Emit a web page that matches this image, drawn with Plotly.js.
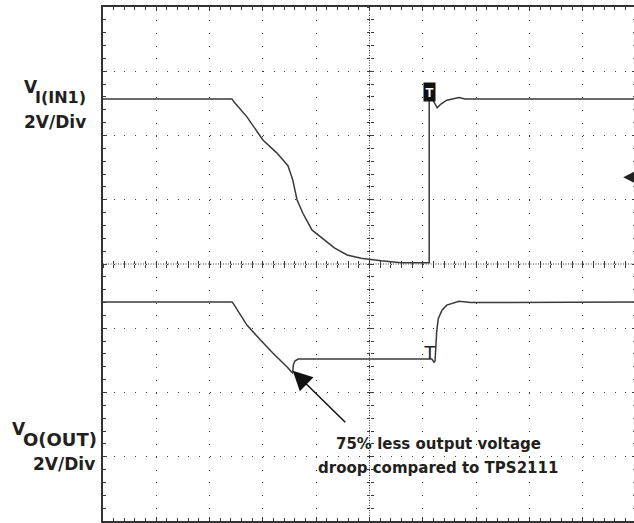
<!DOCTYPE html>
<html><head><meta charset="utf-8">
<script src="https://cdn.plot.ly/plotly-3.0.1.min.js"></script>
<style>html,body{margin:0;padding:0;overflow:hidden;background:#fff}</style>
</head><body><div id="chart" style="width:636px;height:523px"></div>
<script>
// time in screen divisions, voltage in volts
const timeIn1 = [0, 2.42, 2.46, 2.70, 3.00, 3.26, 3.47, 3.56, 3.64, 3.75, 3.92, 4.15, 4.34, 4.58, 4.84, 5.22, 5.59, 6.12, 6.12, 6.19, 6.27, 6.34, 6.45, 6.68, 6.79, 10];
const voltIn1 = [5.14, 5.14, 5.04, 4.58, 3.86, 3.46, 3.06, 2.62, 2.00, 1.58, 1.06, 0.74, 0.50, 0.28, 0.18, 0.10, 0.04, 0.04, 5.14, 5.10, 4.86, 4.98, 5.10, 5.18, 5.14, 5.14];
const timeOut = [0, 2.42, 2.44, 2.57, 2.70, 2.95, 3.19, 3.45, 3.55, 3.56, 3.57, 3.60, 3.66, 3.75, 6.17, 6.21, 6.23, 6.26, 6.29, 6.36, 6.45, 6.68, 6.90, 10];
const voltOut = [5.14, 5.14, 5.10, 4.74, 4.42, 3.96, 3.54, 3.12, 2.96, 2.92, 3.18, 3.30, 3.36, 3.36, 3.36, 3.26, 3.30, 4.20, 4.62, 4.88, 5.04, 5.16, 5.12, 5.14];
const trigLevel = 2.7;
const ch1Label = ["V", "I(IN1)", "2V/Div"];
const ch2Label = ["V", "O(OUT)", "2V/Div"];
const noteLines = ["75% less output voltage", "droop compared to TPS2111"];

const voltsPerDiv = 2;
const ch1Offset = 0;
const ch2Offset = -3.16;

const traceCol = '#3a3a3a';
const gridCol = '#3c3c3c';
const txtCol = '#231f20';
const F = 'DejaVu Sans, Liberation Sans, Arial, sans-serif';

const y1 = voltIn1.map(v => v / voltsPerDiv + ch1Offset);
const y2 = voltOut.map(v => v / voltsPerDiv + ch2Offset);
let minIdx = 0;
voltOut.forEach((v, i) => { if (v < voltOut[minIdx]) minIdx = i; });

const traces = [
  {x: timeIn1, y: y1, mode: 'lines', line: {color: traceCol, width: 1.5}, hoverinfo: 'skip'},
  {x: timeOut, y: y2, mode: 'lines', line: {color: traceCol, width: 1.5}, hoverinfo: 'skip'},
  {x: [], y: [], xaxis: 'x2', yaxis: 'y2'},
  {x: [], y: [], xaxis: 'x3', yaxis: 'y3'}
];

const centerAxisX = (ticks) => ({overlaying: 'x', anchor: 'free', position: 0.5, range: [0, 10], dtick: 0.2, tick0: 0,
  ticks: ticks, ticklen: 3, tickcolor: gridCol, tickwidth: 1, showgrid: false, zeroline: false, showline: false, showticklabels: false});
const centerAxisY = (ticks) => ({overlaying: 'y', anchor: 'free', position: 0.5, range: [-4, 4], dtick: 0.2, tick0: 0,
  ticks: ticks, ticklen: 3, tickcolor: gridCol, tickwidth: 1, showgrid: false, zeroline: false, showline: false, showticklabels: false});

function lbl(text, px, py, anchor, size) {
  return {xref: 'paper', yref: 'paper', x: (px - 103) / 533, y: (521 - py) / 514, xanchor: anchor, yanchor: 'middle',
    text: '<b>' + text + '</b>', showarrow: false, font: {family: F, size: size, color: txtCol}};
}

const annotations = [
  lbl(ch1Label[0], 22, 87, 'left', 17),
  lbl(ch1Label[1], 88, 97.5, 'right', 16),
  lbl(ch1Label[2], 88, 122.5, 'right', 17),
  lbl(ch2Label[0], 10, 429, 'left', 17),
  lbl(ch2Label[1], 99, 439.5, 'right', 18),
  lbl(ch2Label[2], 97, 464, 'right', 17),
  lbl(noteLines[0], 438, 444, 'center', 15),
  lbl(noteLines[1], 438, 467.5, 'center', 15),
  {x: timeOut[minIdx], y: y2[minIdx] + 0.04, xref: 'x', yref: 'y', text: '', showarrow: true, ax: 54, ay: 53,
    arrowhead: 2, arrowsize: 2.6, arrowwidth: 1.5, arrowcolor: '#111'},
  {x: 9.76, y: trigLevel / voltsPerDiv + ch1Offset, xref: 'x', yref: 'y', text: '', showarrow: true, ax: 14, ay: 0,
    arrowhead: 2, arrowsize: 1.6, arrowwidth: 2, arrowcolor: '#222'},
  {x: 6.13, y: 2.68, xref: 'x', yref: 'y', text: '<b>T</b>', showarrow: false, bgcolor: '#111', borderpad: 1.5,
    font: {family: 'Liberation Sans, Arial, sans-serif', size: 13, color: '#fff'}},
  {x: 6.14, y: -1.37, xref: 'x', yref: 'y', text: 'T', showarrow: false,
    font: {family: 'Liberation Sans, Arial, sans-serif', size: 19, color: '#222'}}
];

const layout = {
  width: 636, height: 523,
  margin: {l: 103, r: 0, t: 7, b: 2, pad: 0},
  paper_bgcolor: '#fff', plot_bgcolor: '#fff',
  showlegend: false,
  xaxis: {range: [0, 10], dtick: 1, tick0: 0, showgrid: true, gridcolor: gridCol, gridwidth: 1, griddash: '1px,11.85px',
    zeroline: false, showline: true, mirror: 'allticks', linecolor: '#333', linewidth: 2,
    ticks: 'inside', ticklen: 4, tickcolor: gridCol, showticklabels: false,
    minor: {dtick: 0.2, tick0: 0, ticks: 'inside', ticklen: 3, tickcolor: gridCol, showgrid: false}},
  yaxis: {range: [-4, 4], dtick: 1, tick0: 0, showgrid: true, gridcolor: gridCol, gridwidth: 1, griddash: '1px,9.66px',
    zeroline: false, showline: true, mirror: 'allticks', linecolor: '#333', linewidth: 2,
    ticks: 'inside', ticklen: 4, tickcolor: gridCol, showticklabels: false,
    minor: {dtick: 0.2, tick0: 0, ticks: 'inside', ticklen: 3, tickcolor: gridCol, showgrid: false}},
  xaxis2: centerAxisX('outside'),
  xaxis3: centerAxisX('inside'),
  yaxis2: centerAxisY('outside'),
  yaxis3: centerAxisY('inside'),
  shapes: [
    {type: 'line', xref: 'x', yref: 'paper', x0: 5, x1: 5, y0: 0, y1: 1, line: {color: gridCol, width: 1, dash: '1px,1.5px'}, layer: 'below'},
    {type: 'line', xref: 'paper', yref: 'y', x0: 0, x1: 1, y0: 0, y1: 0, line: {color: gridCol, width: 1, dash: '1px,1.5px'}, layer: 'below'}
  ],
  annotations: annotations
};

Plotly.newPlot('chart', traces, layout, {staticPlot: true, displayModeBar: false});
</script></body></html>
